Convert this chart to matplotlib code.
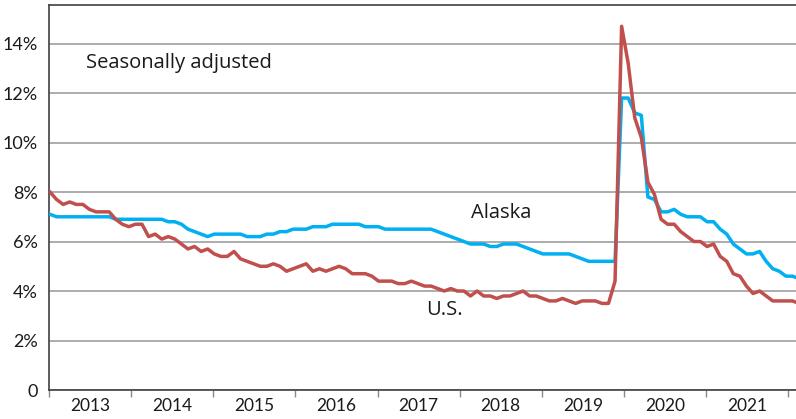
import numpy as np
import matplotlib
matplotlib.use('Agg')
from matplotlib import pyplot as plt

# monthly unemployment rate (%), Jan 2013 onward, seasonally adjusted
us_rate = [
    8.0, 7.7, 7.5, 7.6, 7.5, 7.5, 7.3, 7.2, 7.2, 7.2, 6.9, 6.7,   # 2013
    6.6, 6.7, 6.7, 6.2, 6.3, 6.1, 6.2, 6.1, 5.9, 5.7, 5.8, 5.6,   # 2014
    5.7, 5.5, 5.4, 5.4, 5.6, 5.3, 5.2, 5.1, 5.0, 5.0, 5.1, 5.0,   # 2015
    4.8, 4.9, 5.0, 5.1, 4.8, 4.9, 4.8, 4.9, 5.0, 4.9, 4.7, 4.7,   # 2016
    4.7, 4.6, 4.4, 4.4, 4.4, 4.3, 4.3, 4.4, 4.3, 4.2, 4.2, 4.1,   # 2017
    4.0, 4.1, 4.0, 4.0, 3.8, 4.0, 3.8, 3.8, 3.7, 3.8, 3.8, 3.9,   # 2018
    4.0, 3.8, 3.8, 3.7, 3.6, 3.6, 3.7, 3.6, 3.5, 3.6, 3.6, 3.6,   # 2019
    3.5, 3.5, 4.4, 14.7, 13.2, 11.0, 10.2, 8.4, 7.9, 6.9, 6.7, 6.7,  # 2020
    6.4, 6.2, 6.0, 6.0, 5.8, 5.9, 5.4, 5.2, 4.7, 4.6, 4.2, 3.9,   # 2021
    4.0, 3.8, 3.6, 3.6, 3.6, 3.6, 3.5,                            # 2022
]

alaska_rate = [
    7.1, 7.0, 7.0, 7.0, 7.0, 7.0, 7.0, 7.0, 7.0, 7.0, 6.9, 6.9,   # 2013
    6.9, 6.9, 6.9, 6.9, 6.9, 6.9, 6.8, 6.8, 6.7, 6.5, 6.4, 6.3,   # 2014
    6.2, 6.3, 6.3, 6.3, 6.3, 6.3, 6.2, 6.2, 6.2, 6.3, 6.3, 6.4,   # 2015
    6.4, 6.5, 6.5, 6.5, 6.6, 6.6, 6.6, 6.7, 6.7, 6.7, 6.7, 6.7,   # 2016
    6.6, 6.6, 6.6, 6.5, 6.5, 6.5, 6.5, 6.5, 6.5, 6.5, 6.5, 6.4,   # 2017
    6.3, 6.2, 6.1, 6.0, 5.9, 5.9, 5.9, 5.8, 5.8, 5.9, 5.9, 5.9,   # 2018
    5.8, 5.7, 5.6, 5.5, 5.5, 5.5, 5.5, 5.5, 5.4, 5.3, 5.2, 5.2,   # 2019
    5.2, 5.2, 5.2, 11.8, 11.8, 11.2, 11.1, 7.8, 7.7, 7.2, 7.2, 7.3,  # 2020
    7.1, 7.0, 7.0, 7.0, 6.8, 6.8, 6.5, 6.3, 5.9, 5.7, 5.5, 5.5,   # 2021
    5.6, 5.2, 4.9, 4.8, 4.6, 4.6, 4.5,                            # 2022
]

year_labels = ['2013', '2014', '2015', '2016', '2017', '2018', '2019', '2020', '2021']
y_ticks = [0, 2, 4, 6, 8, 10, 12, 14]
y_tick_labels = ['0', '2%', '4%', '6%', '8%', '10%', '12%', '14%']

RED = '#C0504D'
BLUE = '#00B0F0'
GRID = '#a6a6a6'
AXIS = '#404040'


def main():
    """draw the chart"""
    plt.rcParams['font.family'] = ['Lato', 'DejaVu Sans']

    months = np.arange(len(us_rate))

    fig = plt.figure(figsize=(7.96, 4.19), dpi=100)
    ax = fig.add_axes([48.7 / 796, 29 / 419, 747.3 / 796, 385 / 419])

    ax.plot(months, alaska_rate, color=BLUE, lw=2.5, solid_joinstyle='round', zorder=3)
    ax.plot(months, us_rate, color=RED, lw=2.5, solid_joinstyle='round', zorder=4)

    ax.set_xlim(-0.2, 113.54)
    ax.set_ylim(0, 15.56)

    # horizontal grid
    ax.set_yticks(y_ticks)
    ax.set_yticklabels(y_tick_labels)
    ax.yaxis.grid(True, color=GRID, lw=1.3)
    ax.set_axisbelow(True)
    ax.tick_params(axis='y', length=0, pad=8, labelsize=13, colors='#1a1a1a')

    # year boundaries as ticks, year names centred between them
    bounds = -0.15 + 12.5 * np.arange(len(year_labels) + 1)
    ax.set_xticks(bounds)
    ax.set_xticklabels([])
    ax.set_xticks((bounds[:-1] + bounds[1:]) / 2, minor=True)
    ax.set_xticklabels(year_labels, minor=True)
    ax.tick_params(axis='x', which='major', direction='out', length=5, width=1, color='#888888')
    ax.tick_params(axis='x', which='minor', length=0, pad=6, labelsize=12.5, colors='#1a1a1a')

    for side in ['left', 'bottom', 'top']:
        ax.spines[side].set_color(AXIS)
        ax.spines[side].set_linewidth(1.2)
    ax.spines['right'].set_visible(False)

    note_font = ['Open Sans', 'DejaVu Sans']
    ax.text(5.5, 13.2, 'Seasonally adjusted', fontsize=14.5, va='center',
            color='#1a1a1a', family=note_font)
    ax.text(64.1, 7.15, 'Alaska', fontsize=14.5, va='center', color='#1a1a1a', family=note_font)
    ax.text(57.2, 3.23, 'U.S.', fontsize=14.5, va='center', color='#1a1a1a', family=note_font)

    fig.savefig('out.png', dpi=100)


if __name__ == '__main__':
    main()
